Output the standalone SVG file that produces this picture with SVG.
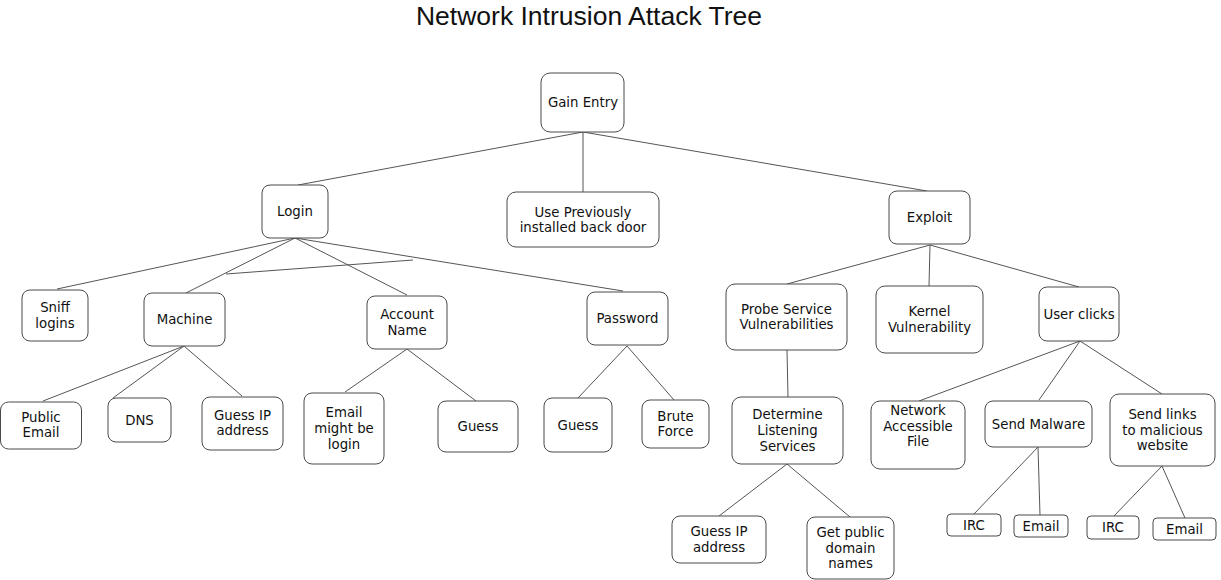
<svg xmlns="http://www.w3.org/2000/svg" width="1221" height="580" viewBox="0 0 1221 580">
<style>
.n rect{fill:#fff;stroke:#4a4a4a;stroke-width:1}
.n text{font-family:"DejaVu Sans",sans-serif;font-size:13.3px;fill:#111;text-anchor:middle}
#edges line{stroke:#555;stroke-width:1}
.title{font-family:"Liberation Sans",Arial,sans-serif;font-size:26.5px;fill:#111;text-anchor:middle}
</style>
<rect width="1221" height="580" fill="#fff"/>
<text class="title" x="589" y="25">Network Intrusion Attack Tree</text>
<g id="edges">
<line x1="583" y1="132" x2="298" y2="185"/>
<line x1="583" y1="132" x2="583" y2="192"/>
<line x1="583" y1="132" x2="927" y2="191"/>
<line x1="295" y1="238" x2="57" y2="289"/>
<line x1="295" y1="238" x2="186" y2="293"/>
<line x1="295" y1="238" x2="407" y2="295"/>
<line x1="295" y1="238" x2="623" y2="291"/>
<line x1="226" y1="274" x2="413" y2="260"/>
<line x1="184" y1="346" x2="43" y2="401"/>
<line x1="184" y1="346" x2="113" y2="398"/>
<line x1="184" y1="346" x2="242" y2="396"/>
<line x1="407" y1="349" x2="345" y2="392"/>
<line x1="407" y1="349" x2="476" y2="401"/>
<line x1="627" y1="346" x2="578" y2="398"/>
<line x1="627" y1="346" x2="674" y2="400"/>
<line x1="930" y1="245" x2="787" y2="284"/>
<line x1="930" y1="245" x2="929" y2="286"/>
<line x1="930" y1="245" x2="1079" y2="287"/>
<line x1="787" y1="350" x2="788" y2="397"/>
<line x1="787" y1="464" x2="719" y2="516"/>
<line x1="787" y1="464" x2="850" y2="517"/>
<line x1="1080" y1="341" x2="919" y2="401"/>
<line x1="1080" y1="341" x2="1039" y2="400"/>
<line x1="1080" y1="341" x2="1162" y2="394"/>
<line x1="1038" y1="447" x2="974" y2="514"/>
<line x1="1038" y1="447" x2="1040" y2="515"/>
<line x1="1162" y1="466" x2="1114" y2="516"/>
<line x1="1162" y1="466" x2="1185" y2="518"/>
</g>
<g id="gain-entry" class="n"><rect x="541" y="73" width="83" height="59" rx="9"/><text x="583" y="107">Gain Entry</text></g>
<g id="login" class="n"><rect x="262" y="185" width="66" height="53" rx="8"/><text x="295" y="216">Login</text></g>
<g id="backdoor" class="n"><rect x="507" y="192" width="152" height="55" rx="9"/><text x="583" y="216.5">Use Previously</text><text x="583" y="232">installed back door</text></g>
<g id="exploit" class="n"><rect x="889" y="191" width="81" height="53" rx="8"/><text x="929.5" y="222">Exploit</text></g>
<g id="sniff" class="n"><rect x="22" y="290" width="66" height="51" rx="8"/><text x="55" y="312">Sniff</text><text x="55" y="328">logins</text></g>
<g id="machine" class="n"><rect x="144" y="293" width="81" height="53" rx="8"/><text x="184.5" y="324">Machine</text></g>
<g id="account" class="n"><rect x="367" y="296" width="80" height="53" rx="8"/><text x="407" y="319">Account</text><text x="407" y="335">Name</text></g>
<g id="password" class="n"><rect x="587" y="292" width="81" height="53" rx="8"/><text x="627.5" y="323">Password</text></g>
<g id="probe" class="n"><rect x="726" y="284" width="121" height="66" rx="9"/><text x="786.5" y="313.7">Probe Service</text><text x="786.5" y="329.4">Vulnerabilities</text></g>
<g id="kernel" class="n"><rect x="876" y="286" width="107" height="67" rx="9"/><text x="929.5" y="316.2">Kernel</text><text x="929.5" y="331.9">Vulnerability</text></g>
<g id="userclicks" class="n"><rect x="1039" y="287" width="80" height="54" rx="8"/><text x="1079" y="318.5">User clicks</text></g>
<g id="public-email" class="n"><rect x="0.5" y="402" width="81" height="47" rx="8"/><text x="41" y="421.7">Public</text><text x="41" y="437.4">Email</text></g>
<g id="dns" class="n"><rect x="108" y="398" width="63" height="44" rx="8"/><text x="139.5" y="424.5">DNS</text></g>
<g id="guess-ip-1" class="n"><rect x="202" y="397" width="81" height="53" rx="8"/><text x="242.5" y="419.7">Guess IP</text><text x="242.5" y="435.4">address</text></g>
<g id="email-login" class="n"><rect x="304" y="393" width="80" height="71" rx="8"/><text x="344" y="417.3">Email</text><text x="344" y="433">might be</text><text x="344" y="448.7">login</text></g>
<g id="guess-acct" class="n"><rect x="438" y="401" width="80" height="51" rx="8"/><text x="478" y="431">Guess</text></g>
<g id="guess-pwd" class="n"><rect x="544" y="398" width="68" height="54" rx="8"/><text x="578" y="429.5">Guess</text></g>
<g id="brute" class="n"><rect x="642" y="400" width="67" height="48" rx="8"/><text x="675.5" y="420.7">Brute</text><text x="675.5" y="436.4">Force</text></g>
<g id="determine" class="n"><rect x="732" y="397" width="111" height="67" rx="9"/><text x="787.5" y="419.3">Determine</text><text x="787.5" y="435">Listening</text><text x="787.5" y="450.7">Services</text></g>
<g id="naf" class="n"><rect x="871" y="401" width="94" height="68" rx="9"/><text x="918" y="415">Network</text><text x="918" y="431">Accessible</text><text x="918" y="446">File</text></g>
<g id="send-malware" class="n"><rect x="985" y="401" width="107" height="46" rx="8"/><text x="1038.5" y="428.5">Send Malware</text></g>
<g id="send-links" class="n"><rect x="1110" y="394" width="105" height="72" rx="9"/><text x="1162.5" y="418.8">Send links</text><text x="1162.5" y="434.5">to malicious</text><text x="1162.5" y="450.2">website</text></g>
<g id="guess-ip-2" class="n"><rect x="672" y="516" width="94" height="47" rx="8"/><text x="719" y="536.2">Guess IP</text><text x="719" y="551.9">address</text></g>
<g id="get-public" class="n"><rect x="807" y="517" width="87" height="62" rx="8"/><text x="850.5" y="536.8">Get public</text><text x="850.5" y="552.5">domain</text><text x="850.5" y="568.2">names</text></g>
<g id="irc-1" class="n"><rect x="947" y="514" width="54" height="22" rx="4"/><text x="974" y="529.5">IRC</text></g>
<g id="email-1" class="n"><rect x="1014" y="515" width="54" height="22" rx="4"/><text x="1041" y="530.5">Email</text></g>
<g id="irc-2" class="n"><rect x="1087" y="516" width="52" height="23" rx="4"/><text x="1113" y="532">IRC</text></g>
<g id="email-2" class="n"><rect x="1153" y="518" width="63" height="22" rx="4"/><text x="1184.5" y="533.5">Email</text></g>
</svg>
